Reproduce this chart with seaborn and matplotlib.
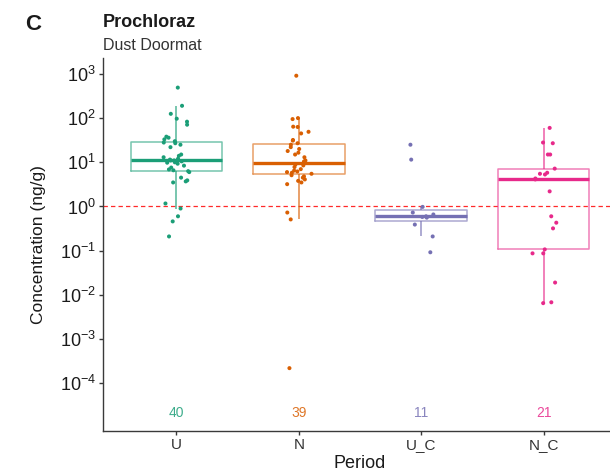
import numpy as np
import pandas as pd
import matplotlib
matplotlib.use("Agg")
import matplotlib.pyplot as plt
from matplotlib.ticker import LogLocator, LogFormatterMathtext, NullLocator
import seaborn as sns

sns.set_style("ticks")
plt.rcParams["font.family"] = ["Liberation Sans", "DejaVu Sans"]
plt.rcParams["mathtext.fontset"] = "custom"
plt.rcParams["mathtext.rm"] = "Liberation Sans"

periods = ["U", "N", "U_C", "N_C"]
colors = ["#1B9E77", "#D95F02", "#7570B3", "#E7298A"]

# concentrations (ng/g)
u_vals = [490, 190, 125, 97, 83, 71, 38, 36, 33, 30, 28, 27, 25, 22, 15, 14, 13, 12,
          11.5, 11, 11, 10.5, 10, 9.8, 9.3, 8.4, 7.6, 6.9, 6.6, 6.3, 6.0, 4.5, 3.9,
          3.7, 3.5, 1.17, 0.9, 0.6, 0.46, 0.21]
n_vals = [910, 100, 95, 64, 63, 49, 45, 32, 31, 27, 25, 22, 20, 18, 16.5, 15, 13, 11,
          10.4, 9.8, 8.9, 8.5, 7.8, 7.0, 6.5, 6.2, 6.0, 5.8, 5.5, 5.1, 4.8, 4.5, 4.1,
          3.8, 3.5, 3.2, 0.73, 0.51, 0.00022]
uc_vals = [25, 11.5, 0.98, 0.73, 0.66, 0.6, 0.58, 0.56, 0.39, 0.21, 0.092]
nc_vals = [60, 28, 27, 15, 15, 7.2, 5.8, 5.5, 5.3, 4.3, 4.1, 2.2, 0.6, 0.43, 0.32,
           0.107, 0.087, 0.087, 0.019, 0.0068, 0.0065]

groups = [u_vals, n_vals, uc_vals, nc_vals]
counts = [len(g) for g in groups]

df = pd.DataFrame({
    "Period": np.concatenate([[p] * len(g) for p, g in zip(periods, groups)]),
    "Conc": np.concatenate(groups),
})

pal = dict(zip(periods, colors))

fig = plt.figure(figsize=(6.1, 4.75), dpi=100)
ax = fig.add_axes([103 / 610, 1 - 431 / 475, 514 / 610, 373 / 475])

sns.boxplot(data=df, x="Period", y="Conc", hue="Period", order=periods,
            hue_order=periods, palette=pal, fill=False, width=0.75,
            showfliers=False, showcaps=False, log_scale=True, legend=False,
            linewidth=1.1, ax=ax,
            boxprops={"alpha": 0.6}, whiskerprops={"alpha": 0.75},
            medianprops={"linewidth": 2.4, "alpha": 1})

np.random.seed(3)
sns.stripplot(data=df, x="Period", y="Conc", hue="Period", order=periods,
              hue_order=periods, palette=pal, jitter=0.11, size=2.9,
              legend=False, ax=ax, zorder=3)

ax.axhline(1, color="#FF2A2A", ls=(0, (3.5, 2.5)), lw=0.9, zorder=1)

for i, (p, n) in enumerate(zip(periods, counts)):
    ax.text(i, 10 ** -4.68, str(n), color=pal[p], ha="center", va="center",
            fontsize=10, alpha=0.85)

ax.set_xlim(-0.6, 3.6)
ax.set_ylim(10 ** -5.08, 10 ** 3.36)
ax.yaxis.set_major_locator(LogLocator(base=10, numticks=20))
ax.yaxis.set_major_formatter(LogFormatterMathtext())
ax.yaxis.set_minor_locator(NullLocator())
ax.set_yticks([10.0 ** k for k in range(-4, 4)])

for side in ["top", "right"]:
    ax.spines[side].set_visible(False)
for side in ["left", "bottom"]:
    ax.spines[side].set_color("#3a3a3a")
    ax.spines[side].set_linewidth(1.0)

ax.tick_params(axis="y", labelsize=13, colors="#3a3a3a", labelcolor="#1a1a1a",
               length=3, width=1, pad=2)
ax.tick_params(axis="x", labelsize=11, colors="#3a3a3a", labelcolor="#333333",
               length=3, width=1, pad=2)

ax.set_xlabel("Period", fontsize=13, color="#1a1a1a", labelpad=2)
ax.set_ylabel("Concentration (ng/g)", fontsize=12.5, color="#1a1a1a", labelpad=10)

fig.text(103 / 610, 1 - 27 / 475, "Prochloraz", fontsize=13, fontweight="bold",
         color="#1a1a1a", ha="left", va="baseline")
fig.text(103 / 610, 1 - 50 / 475, "Dust Doormat", fontsize=11.5,
         color="#333333", ha="left", va="baseline")
fig.text(25 / 610, 1 - 30 / 475, "C", fontsize=16, fontweight="bold",
         color="#1a1a1a", ha="left", va="baseline")

fig.savefig("out.png", dpi=100)
